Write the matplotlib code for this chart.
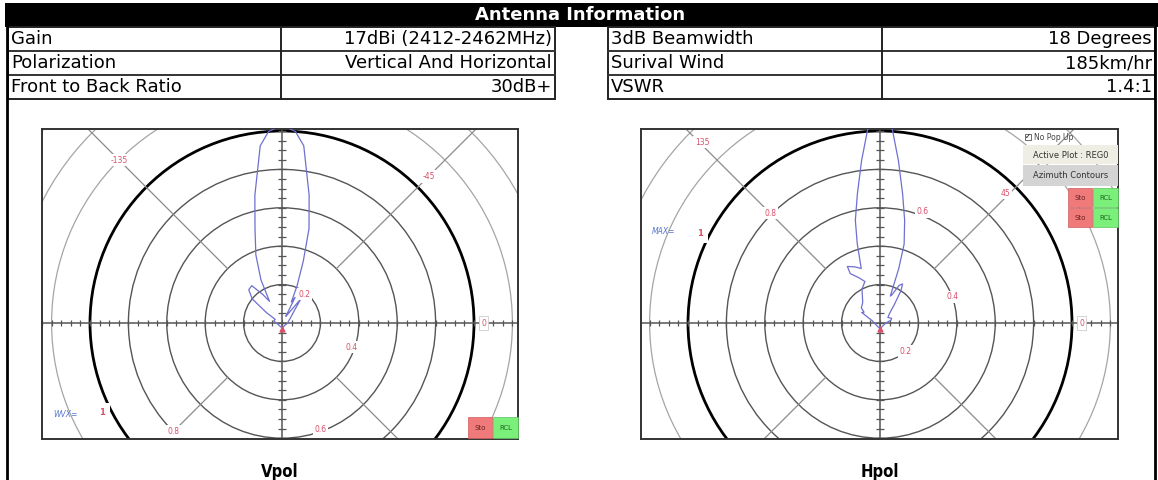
import numpy as np
import matplotlib
matplotlib.use('Agg')
import matplotlib.pyplot as plt
from matplotlib.patches import Rectangle, Circle

# table contents
left_names = ['Gain', 'Polarization', 'Front to Back Ratio']
left_values = ['17dBi (2412-2462MHz)', 'Vertical And Horizontal', '30dB+']
right_names = ['3dB Beamwidth', 'Surival Wind', 'VSWR']
right_values = ['18 Degrees', '185km/hr', '1.4:1']

# polar grid (relative field, 1.0 = max)
ring_values = [0.2, 0.4, 0.6, 0.8, 1.0, 1.2, 1.4, 1.6]
spoke_angles = [45, 135, 225, 315]

# traced patterns: angle in degrees (0 = right, 90 = up), relative amplitude
vpol_angle = [0, 15, 30, 45, 52, 56, 60, 63, 66, 68, 71, 74, 78, 83, 86, 90,
              94, 97, 102, 106, 111, 116, 120, 124, 129, 135, 141, 146, 152,
              165, 180, 210, 240, 270, 300, 330, 360]
vpol_gain = [0.03, 0.035, 0.05, 0.09, 0.16, 0.06, 0.04, 0.15, 0.12, 0.21, 0.34,
             0.51, 0.68, 0.93, 1.0, 1.03, 1.0, 0.93, 0.68, 0.51, 0.38, 0.25,
             0.13, 0.18, 0.25, 0.245, 0.2, 0.1, 0.04, 0.045, 0.03, 0.02, 0.02,
             0.025, 0.02, 0.02, 0.03]

hpol_angle = [0, 15, 22, 35, 45, 52, 57, 60, 63, 67, 69, 71, 73, 76.5, 80, 83.5,
              86.5, 90, 93.5, 96.5, 100, 103.5, 106, 109, 114, 120, 121, 115,
              110, 118, 130, 141, 146, 150, 155, 165, 180, 270, 360]
hpol_gain = [0.03, 0.06, 0.065, 0.05, 0.07, 0.12, 0.2, 0.235, 0.22, 0.16, 0.15,
             0.3, 0.43, 0.55, 0.68, 0.85, 1.02, 1.06, 1.02, 0.85, 0.68, 0.55,
             0.43, 0.3, 0.32, 0.34, 0.3, 0.26, 0.23, 0.2, 0.14, 0.125, 0.1,
             0.11, 0.07, 0.04, 0.03, 0.03, 0.03]

# (text, ring radius, angle) for the red grid labels
vpol_labels = [('0.2', 0.19, 52), ('0.4', 0.385, -19), ('0.6', 0.59, -70),
               ('0.8', 0.80, -135), ('-135', 1.2, 135), ('-45', 1.08, 45)]
hpol_labels = [('0.2', 0.2, -48), ('0.4', 0.4, 20), ('0.6', 0.62, 69),
               ('0.8', 0.81, 135), ('135', 1.32, 134.5), ('45', 0.94, 46)]

W, H = 1158, 480
S = 192.0  # pixels per unit radius
RED = '#d9506a'
BLUE = '#6f6fd0'

fig = plt.figure(figsize=(W / 100, H / 100), dpi=100)


def polar_plot(box, center, angles, gains, labels, flipped):
    x0, y0, x1, y1 = box
    cx, cy = center
    ax = fig.add_axes([x0 / W, 1 - y1 / H, (x1 - x0) / W, (y1 - y0) / H])
    ax.set_xlim((x0 - cx) / S, (x1 - cx) / S)
    ax.set_ylim((cy - y1) / S, (cy - y0) / S)
    ax.set_xticks([])
    ax.set_yticks([])
    for sp in ax.spines.values():
        sp.set_color('#333333')
        sp.set_linewidth(1.4)

    for r in ring_values:
        if r < 1:
            col, lw = '#555555', 1.0
        elif r == 1:
            col, lw = 'black', 2.0
        else:
            col, lw = '#a5a5a5', 0.9
        ax.add_patch(Circle((0, 0), r, fill=False, ec=col, lw=lw, zorder=1))
    for a in spoke_angles:
        t = np.radians(a)
        ax.plot([0.4 * np.cos(t), 2.2 * np.cos(t)], [0.4 * np.sin(t), 2.2 * np.sin(t)],
                color='#8a8a8a', lw=0.9, zorder=1)

    ax.axhline(0, color='#555555', lw=1.1, zorder=1)
    ax.axvline(0, color='#555555', lw=1.1, zorder=1)
    ticks = np.arange(-32, 33) * 0.05
    ax.vlines(ticks, -0.016, 0.016, color='#555555', lw=0.9, zorder=1)
    ax.hlines(ticks, -0.02, 0.02, color='#555555', lw=0.9, zorder=1)

    th = np.radians(angles)
    g = np.array(gains)
    ax.plot(g * np.cos(th), g * np.sin(th), color=BLUE, lw=0.9, zorder=3)
    ax.plot([0], [-0.03], marker='^', ms=3.5, color=RED, zorder=4)

    for txt, r, a in labels:
        t = np.radians(a)
        ax.text(r * np.cos(t), r * np.sin(t), txt, color=RED, fontsize=5.5,
                ha='center', va='center', zorder=5,
                bbox=dict(fc='white', ec='none', pad=1.2))
    ax.text(1.05, 0, '0', color=RED, fontsize=5.5, ha='center', va='center', zorder=5,
            bbox=dict(fc='white', ec='#cccccc', lw=0.6, pad=1.5))

    sgn = -1 if flipped else 1
    t = np.radians(sgn * 157)
    ax.text(1.225 * np.cos(t), 1.225 * np.sin(t), 'WVX=' if flipped else 'MAX=',
            color='#5577cc', fontsize=5.5, style='italic', ha='center', va='center', zorder=5)
    t = np.radians(sgn * 153.5)
    ax.text(1.05 * np.cos(t), 1.05 * np.sin(t), '1', color=RED, fontsize=6,
            fontweight='bold', ha='center', va='center', zorder=5,
            bbox=dict(fc='white', ec='none', pad=4))
    return ax


polar_plot((42, 129, 518, 439), (282, 323), vpol_angle, vpol_gain, vpol_labels, True)
polar_plot((641, 129, 1118, 439), (880, 323), hpol_angle, hpol_gain, hpol_labels, False)

# overlay for the table, frame and screenshot widgets (pixel coordinates)
ov = fig.add_axes([0, 0, 1, 1], zorder=10)
ov.set_xlim(0, W)
ov.set_ylim(H, 0)
ov.axis('off')
ov.patch.set_alpha(0)

ov.add_patch(Rectangle((5, 3), W - 5, 24, fc='black', ec='none'))
ov.text(580, 15.5, 'Antenna Information', color='white', fontweight='bold',
        fontsize=13, ha='center', va='center')

row_top, row_h = 27, 24
for (xa, xb, xd), names, values in [((8, 555, 281), left_names, left_values),
                                     ((608, 1155, 882), right_names, right_values)]:
    ov.add_patch(Rectangle((xa, row_top), xb - xa, 3 * row_h, fill=False, ec='#222222', lw=1.4))
    for i in (1, 2):
        ov.plot([xa, xb], [row_top + i * row_h] * 2, color='#333333', lw=1.4)
    ov.plot([xd, xd], [row_top, row_top + 3 * row_h], color='#222222', lw=1.4)
    for i, (n, v) in enumerate(zip(names, values)):
        yc = row_top + i * row_h + row_h / 2 + 0.5
        ov.text(xa + 3, yc, n, fontsize=13, ha='left', va='center')
        ov.text(xb - 3, yc, v, fontsize=13, ha='right', va='center')

ov.plot([7, 7], [row_top, H], color='black', lw=2)
ov.plot([1155, 1155], [row_top, H], color='black', lw=2)

# screenshot controls, right plot
ov.add_patch(Rectangle((1025, 134), 6, 6, fc='white', ec='#555555', lw=0.6))
ov.text(1028, 137, '✓', fontsize=5, ha='center', va='center')
ov.text(1034, 137.5, 'No Pop Up', fontsize=5.5, color='#444444', ha='left', va='center')
ov.add_patch(Rectangle((1023, 145), 95, 19, fc='#efeee4', ec='none'))
ov.text(1070.5, 155, 'Active Plot : REG0', fontsize=6, color='#333333', ha='center', va='center')
ov.add_patch(Rectangle((1023, 165), 95, 21, fc='#d4d4d4', ec='none'))
ov.text(1070.5, 175.5, 'Azimuth Contours', fontsize=6, color='#333333', ha='center', va='center')
for yb in (188, 208):
    ov.add_patch(Rectangle((1068, yb), 24, 19, fc='#f07a7a', ec='#cc6060', lw=0.5))
    ov.add_patch(Rectangle((1093, yb), 25, 19, fc='#7af07a', ec='#60c060', lw=0.5))
    ov.text(1080, yb + 9.5, 'Sto', fontsize=5, color='#662222', ha='center', va='center')
    ov.text(1105.5, yb + 9.5, 'RCL', fontsize=5, color='#226622', ha='center', va='center')

# screenshot controls, left plot (image is flipped)
ov.add_patch(Rectangle((468, 417), 24, 21, fc='#f07a7a', ec='#cc6060', lw=0.5))
ov.add_patch(Rectangle((493, 417), 25, 21, fc='#7af07a', ec='#60c060', lw=0.5))
ov.text(480, 427.5, 'Sto', fontsize=5, color='#662222', ha='center', va='center')
ov.text(505.5, 427.5, 'RCL', fontsize=5, color='#226622', ha='center', va='center')

cap_font = ['Liberation Sans Narrow', 'DejaVu Sans']
ov.text(280, 472, 'Vpol', fontsize=12, fontweight='bold', family=cap_font,
        fontstretch='condensed', ha='center', va='center')
ov.text(880, 472, 'Hpol', fontsize=12, fontweight='bold', family=cap_font,
        fontstretch='condensed', ha='center', va='center')

fig.savefig('out.png', dpi=100, facecolor='white')
